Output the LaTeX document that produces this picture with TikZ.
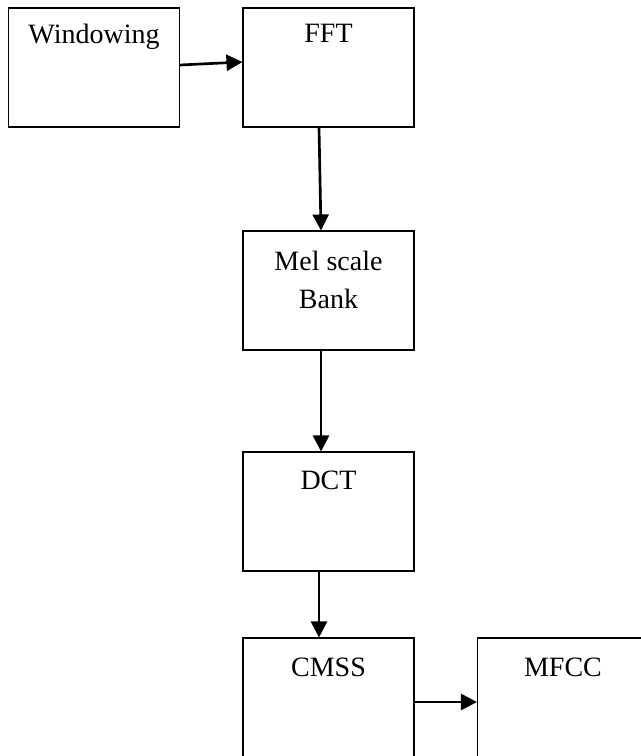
\documentclass[tikz,border=0pt]{standalone}
\usepackage{fontspec}
\setmainfont{Liberation Serif}
\usetikzlibrary{calc, positioning}
\usetikzlibrary{arrows.meta}

\begin{document}
\begin{tikzpicture}[x=0.75pt,y=-0.75pt,
  block/.style={draw,line width=0.8pt,minimum width=128.25pt,minimum height=89.25pt,inner sep=0pt},
  blocktext/.style={anchor=north,inner sep=0pt,align=center,font=\fontsize{21}{29}\selectfont},
  flow/.style={line width=2pt,-{Triangle[length=12pt,width=12pt]}}]
\useasboundingbox (0,0) rectangle (641,756);

\node[block] (win) at (94,67.5) {};
\node[block] (fft) at (328.5,67.5) {};
\node[block] (mel) at (328.5,290.5) {};
\node[block] (dct) at (328.5,511.5) {};
\node[block] (cmss) at (328.5,697.5) {};
\node[block] (mfcc) at (563,697.5) {};

\node[blocktext] (winlbl) at ($(win.north)+(0,16)$) {Windowing};
\node[blocktext] (fftlbl) at ($(fft.north)+(0,16)$) {FFT};
\node[blocktext] (mellbl) at ($(mel.north)+(0,20)$) {Mel scale\\Bank};
\node[blocktext] (dctlbl) at ($(dct.north)+(0,19)$) {DCT};
\node[blocktext] (cmsslbl) at ($(cmss.north)+(0,20)$) {CMSS};
\node[blocktext] (mfcclbl) at ($(mfcc.north)+(0,20)$) {MFCC};

\draw[flow] ($(win.east)+(0,-2.5)$) -- ($(fft.west)+(0,-5.5)$);
\draw[flow] ($(fft.south)+(-9.5,0)$) -- ($(mel.north)+(-7.5,0)$);
\draw[flow] ($(mel.south)+(-7.5,0)$) -- ($(dct.north)+(-7.5,0)$);
\draw[flow] ($(dct.south)+(-9.5,0)$) -- ($(cmss.north)+(-9.5,0)$);
\draw[flow] ($(cmss.east)+(0,4.5)$) -- ($(mfcc.west)+(0,4.5)$);
\end{tikzpicture}
\end{document}
